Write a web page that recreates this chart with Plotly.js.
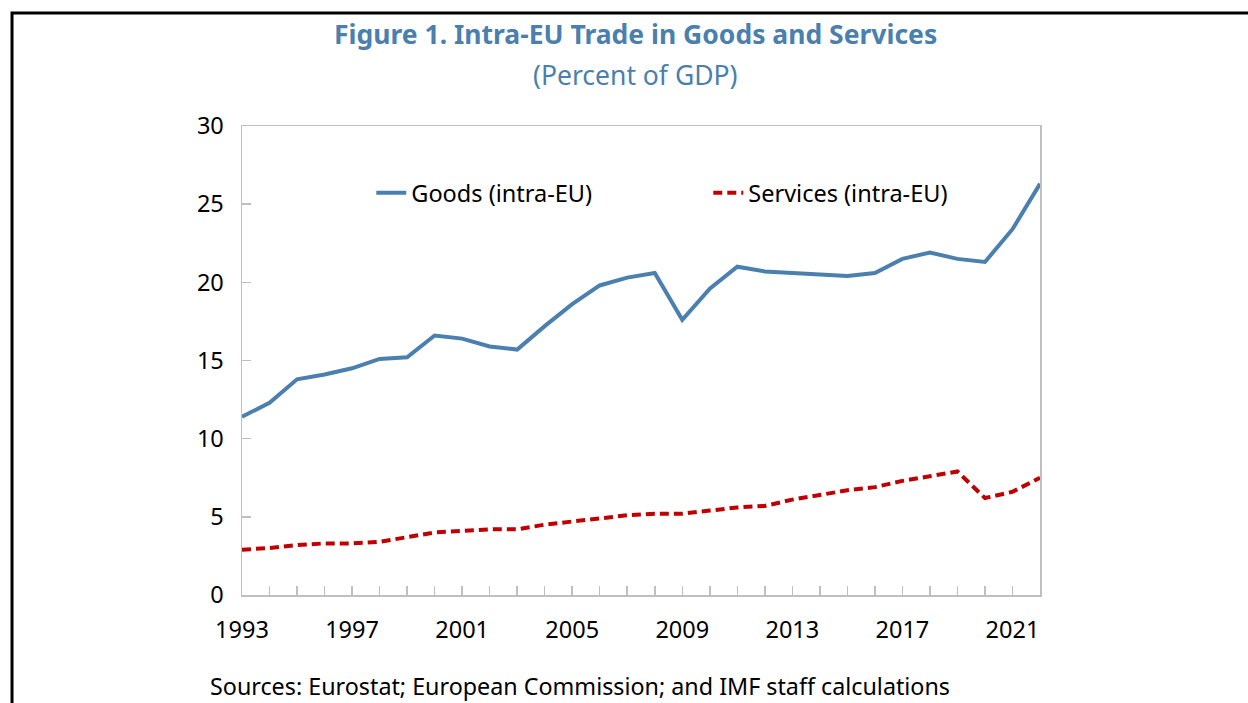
<!DOCTYPE html>
<html>
<head>
<meta charset="utf-8">
<script src="https://cdn.plot.ly/plotly-3.0.1.min.js"></script>
<style>
  html, body { margin: 0; padding: 0; background: #ffffff; }
  #chart { width: 1248px; height: 703px; }
</style>
</head>
<body>
<div id="chart"></div>
<script>
// Data (percent of GDP)
const years = [1993,1994,1995,1996,1997,1998,1999,2000,2001,2002,2003,2004,2005,2006,2007,2008,2009,2010,2011,2012,2013,2014,2015,2016,2017,2018,2019,2020,2021,2022];
const goods = [11.4,12.3,13.8,14.1,14.5,15.1,15.2,16.6,16.4,15.9,15.7,17.2,18.6,19.8,20.3,20.6,17.6,19.6,21.0,20.7,20.6,20.5,20.4,20.6,21.5,21.9,21.5,21.3,23.4,26.3];
const services = [2.9,3.0,3.2,3.3,3.3,3.4,3.7,4.0,4.1,4.2,4.2,4.5,4.7,4.9,5.1,5.2,5.2,5.4,5.6,5.7,6.1,6.4,6.7,6.9,7.3,7.6,7.9,6.2,6.6,7.5];
const seriesNames = ["Goods (intra-EU)", "Services (intra-EU)"];
const titleText = "Figure 1. Intra-EU Trade in Goods and Services";
const subtitleText = "(Percent of GDP)";
const sourceText = "Sources: Eurostat; European Commission; and IMF staff calculations";

const FONT = "Noto Sans, Open Sans, sans-serif";
const BLUE = "#4a7fae";
const RED = "#c00000";
const GREY = "#bfbfbf";

const traces = [
  { x: years, y: goods, name: seriesNames[0], type: "scatter", mode: "lines",
    line: { color: BLUE, width: 4 } },
  { x: years, y: services, name: seriesNames[1], type: "scatter", mode: "lines",
    line: { color: RED, width: 4, dash: "9px,5px" } }
];

const layout = {
  width: 1248, height: 703,
  margin: { l: 242, r: 208, t: 126, b: 108, pad: 0 },
  paper_bgcolor: "#ffffff", plot_bgcolor: "#ffffff",
  font: { family: FONT, size: 23.5, color: "#000000" },
  showlegend: true,
  legend: {
    orientation: "h", x: 0.162, y: 0.857, xanchor: "left", yanchor: "middle",
    bgcolor: "rgba(0,0,0,0)", font: { family: FONT, size: 23.5, color: "#000000" },
    entrywidth: 292, entrywidthmode: "pixels", traceorder: "normal"
  },
  xaxis: {
    range: [1993, 2022], showgrid: false, zeroline: false,
    showline: true, linecolor: GREY, linewidth: 1.5, mirror: true,
    tickmode: "linear", tick0: 1993, dtick: 4,
    ticks: "inside", ticklen: 9, tickcolor: GREY, tickwidth: 1.5,
    minor: { ticks: "inside", dtick: 1, tick0: 1993, ticklen: 9, tickcolor: GREY, tickwidth: 1.5, showgrid: false },
    tickfont: { family: FONT, size: 23.5, color: "#000000" },
    ticklabelstandoff: 13, fixedrange: true
  },
  yaxis: {
    range: [0, 30], showgrid: false, zeroline: false,
    showline: true, linecolor: GREY, linewidth: 1.5, mirror: true,
    tickmode: "linear", tick0: 0, dtick: 5,
    ticks: "inside", ticklen: 9, tickcolor: GREY, tickwidth: 1.5,
    tickfont: { family: FONT, size: 23.5, color: "#000000" },
    ticklabelstandoff: 12, fixedrange: true
  },
  annotations: [
    { text: "<b>" + titleText + "</b>", xref: "paper", yref: "paper", x: 0.493, y: 1.197,
      xanchor: "center", yanchor: "middle", showarrow: false,
      font: { family: FONT, size: 26.5, color: BLUE } },
    { text: subtitleText, xref: "paper", yref: "paper", x: 0.493, y: 1.108,
      xanchor: "center", yanchor: "middle", showarrow: false,
      font: { family: FONT, size: 26.5, color: BLUE } },
    { text: sourceText, xref: "paper", yref: "paper", x: -0.0426, y: -0.194,
      xanchor: "left", yanchor: "middle", showarrow: false,
      font: { family: FONT, size: 23.3, color: "#000000" } }
  ],
  shapes: [
    { type: "rect", xref: "paper", yref: "paper", x0: -0.2882, x1: 1.2757, y0: -0.2665, y1: 1.241,
      line: { color: "#000000", width: 3 }, fillcolor: "rgba(0,0,0,0)", layer: "below" }
  ]
};

Plotly.newPlot("chart", traces, layout, { displayModeBar: false, staticPlot: true });
</script>
</body>
</html>
